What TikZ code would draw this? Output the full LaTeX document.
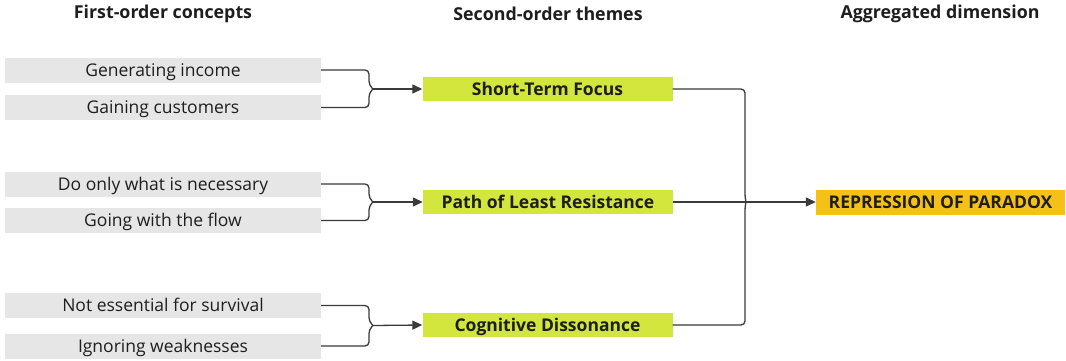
\documentclass[tikz,border=0pt]{standalone}
\usepackage{fontspec}
\setmainfont{Open Sans}
\usetikzlibrary{arrows.meta}
\definecolor{concept}{HTML}{E6E6E6}
\definecolor{theme}{HTML}{D3E63E}
\definecolor{dimension}{HTML}{F5C116}
\definecolor{linec}{HTML}{3A3A3A}
\definecolor{txt}{HTML}{1E1E1E}
\begin{document}
\begin{tikzpicture}[x=1pt,y=-1pt,
  box/.style={inner sep=0pt,text height=16pt,text depth=4pt,text=txt},
  concept/.style={box,fill=concept,minimum width=316pt,minimum height=25pt,font=\fontsize{17.5}{20}\selectfont},
  theme/.style={box,fill=theme,minimum width=250pt,minimum height=24pt,font=\bfseries\fontsize{17.5}{20}\selectfont},
  dimension/.style={box,fill=dimension,minimum width=249pt,minimum height=25pt,font=\bfseries\fontsize{17.5}{20}\selectfont},
  header/.style={font=\bfseries\fontsize{17.8}{20}\selectfont,text=txt},
  conn/.style={draw=linec,line width=1.3pt,rounded corners=4pt},
  arr/.style={draw=linec,line width=1.3pt,-{Triangle[length=10pt,width=9pt]}}]
\useasboundingbox (0,0) rectangle (1066,360);
\fill[white] (0,0) rectangle (1066,360);
% headers
\node[header] (h1) at (163,14) {First-order concepts};
\node[header] (h2) at (548,14) {Second-order themes};
\node[header] (h3) at (940,14) {Aggregated dimension};
% concepts
\node[concept] (c1) at (163,70) {Generating income};
\node[concept] (c2) at (163,107.5) {Gaining customers};
\node[concept] (c3) at (163,184) {Do only what is necessary};
\node[concept] (c4) at (163,220.5) {Going with the flow};
\node[concept] (c5) at (163,305.5) {Not essential for survival};
\node[concept] (c6) at (163,346) {Ignoring weaknesses};
% themes
\node[theme] (t1) at (547.5,89) {Short-Term Focus};
\node[theme] (t2) at (548,202) {Path of Least Resistance};
\node[theme] (t3) at (547.5,325) {Cognitive Dissonance};
% dimension
\node[dimension] (d) at (940.5,202) {REPRESSION OF PARADOX};
% junctions
\coordinate (j1) at (373,89);
\coordinate (j2) at (373,202);
\coordinate (j3) at (373,325.5);
\coordinate (j4) at (746,202);
% brackets
\draw[conn] (c1.east) -| (369,85) -- (j1);
\draw[conn] (c2.east) -| (369,93) -- (j1);
\draw[arr] (j1) -- (t1.west);
\draw[conn] (c3.east) -| (369,198) -- (j2);
\draw[conn] (c4.east) -| (369,206) -- (j2);
\draw[arr] (j2) -- (t2.west);
\draw[conn] (c5.east) -| (369,321.5) -- (j3);
\draw[conn] (c6.east) -| (369,329.5) -- (j3);
\draw[arr] (j3) -- (t3.west);
% right side
\draw[conn] (t1.east) -| (745,198) -- (j4);
\draw[conn] (t3.east) -| (745,206) -- (j4);
\draw[conn] (t2.east) -- (j4);
\draw[arr] (j4) -- (d.west);
\end{tikzpicture}
\end{document}
